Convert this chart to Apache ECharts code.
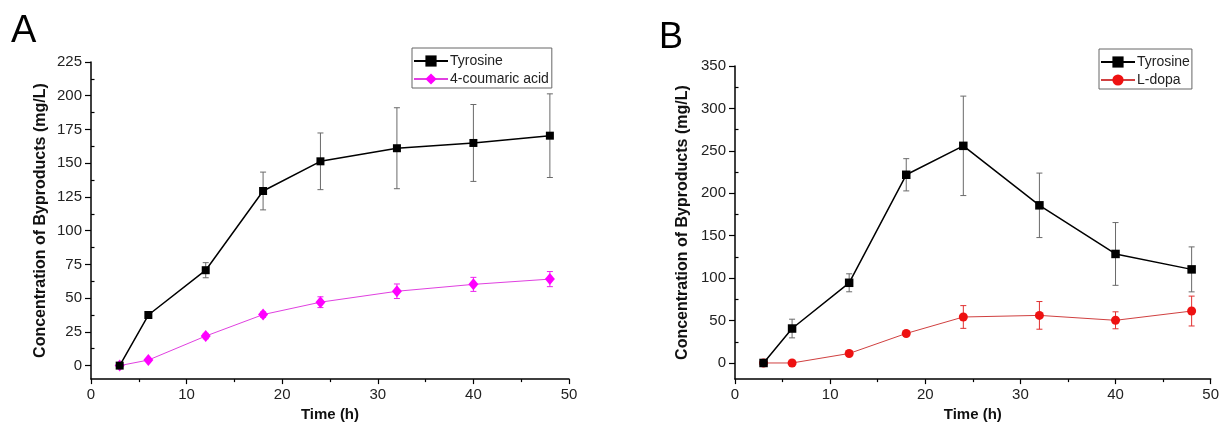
<!DOCTYPE html>
<html><head><meta charset="utf-8">
<script src="https://cdn.jsdelivr.net/npm/echarts@6/dist/echarts.min.js"></script>
<style>html,body{margin:0;padding:0;background:#fff}#c{width:1222px;height:427px}</style>
</head><body><div id="c"></div>
<script>
const hours = [3, 6, 12, 18, 24, 32, 40, 48];
const tyrA = [0, 37.5, 70.7, 129.4, 151.4, 161.1, 165, 170.4];
const tyrAErr = [0, 2.5, 5.6, 14, 21, 30, 28.5, 31];
const couA = [0, 4.1, 21.9, 37.8, 47, 55.1, 60.2, 64.1];
const couAErr = [0, 1, 2, 2, 4, 5.4, 5.2, 5.6];
const tyrB = [0, 40.6, 94.5, 221.8, 255.9, 185.8, 128.5, 110.3];
const tyrBErr = [0, 11, 10.6, 19, 58.6, 38, 37, 26.5];
const dopaB = [0, 0, 11.2, 34.8, 54.2, 56.1, 50.3, 61.2];
const dopaBErr = [0, 0, 1.5, 2, 13.4, 16.3, 10, 17.6];
const yLabelsA = [0, 25, 50, 75, 100, 125, 150, 175, 200, 225];
const yMinorA = [12.5, 37.5, 62.5, 87.5, 112.5, 137.5, 162.5, 187.5, 212.5];
const yLabelsB = [0, 50, 100, 150, 200, 250, 300, 350];
const yMinorB = [25, 75, 125, 175, 225, 275, 325];
const yTitle = 'Concentration of Byproducts (mg/L)';
const xTitle = 'Time (h)';

const FONT = '"Liberation Sans", Arial, sans-serif';
const pts = (v) => hours.map((h, i) => [h, v[i]]);
const errs = (v, e) => hours.map((h, i) => [h, v[i] - e[i], v[i] + e[i]]).filter((d, i) => e[i] > 0);

function errSeries(data, idx, color) {
  return {
    type: 'custom', xAxisIndex: idx, yAxisIndex: idx * 2, data: data, z: 1,
    encode: { x: 0, y: [1, 2] }, silent: true,
    renderItem: function (params, api) {
      const x = api.value(0), lo = api.value(1), hi = api.value(2);
      const pl = api.coord([x, lo]), ph = api.coord([x, hi]);
      const w = 3, st = { stroke: color, lineWidth: 1 };
      return { type: 'group', children: [
        { type: 'line', shape: { x1: pl[0], y1: pl[1], x2: ph[0], y2: ph[1] }, style: st },
        { type: 'line', shape: { x1: pl[0] - w, y1: pl[1], x2: pl[0] + w, y2: pl[1] }, style: st },
        { type: 'line', shape: { x1: ph[0] - w, y1: ph[1], x2: ph[0] + w, y2: ph[1] }, style: st }
      ]};
    }
  };
}

function xAxis(idx) {
  return {
    type: 'value', gridIndex: idx, min: 0, max: 50, interval: 10,
    name: xTitle, nameLocation: 'middle', nameGap: 27,
    nameTextStyle: { fontFamily: FONT, fontSize: 15, fontWeight: 'bold', color: '#111' },
    axisLine: { onZero: false, lineStyle: { color: '#000', width: 1.5 } },
    axisTick: { length: 5, lineStyle: { color: '#000', width: 1.2 } },
    minorTick: { show: true, splitNumber: 2, length: 3, lineStyle: { color: '#000', width: 1.2 } },
    axisLabel: { fontFamily: FONT, fontSize: 15, color: '#222', margin: 8 },
    splitLine: { show: false }
  };
}
function yAxes(idx, min, max, labels, minor, gap) {
  return [{
    type: 'value', gridIndex: idx, min: min, max: max,
    name: yTitle, nameLocation: 'middle', nameGap: gap,
    nameTextStyle: { fontFamily: FONT, fontSize: 16, fontWeight: 'bold', color: '#111' },
    axisLine: { show: true, onZero: false, lineStyle: { color: '#000', width: 1.5 } },
    axisTick: { show: true, length: 6, customValues: labels, lineStyle: { color: '#000', width: 1.2 } },
    axisLabel: { fontFamily: FONT, fontSize: 15, color: '#222', margin: 9, customValues: labels },
    splitLine: { show: false }
  }, {
    type: 'value', gridIndex: idx, min: min, max: max,
    axisLine: { show: false },
    axisTick: { show: true, length: 3.5, customValues: minor, lineStyle: { color: '#000', width: 1.2 } },
    axisLabel: { show: false, customValues: minor },
    splitLine: { show: false }
  }];
}

const legendBase = {
  orient: 'vertical', itemGap: 4, itemWidth: 34, itemHeight: 14,
  borderColor: '#666', borderWidth: 1,
  textStyle: { fontFamily: FONT, fontSize: 14, color: '#222', padding: [0, 0, 0, -3] }
};

const chart = echarts.init(document.getElementById('c'), null, { renderer: 'canvas' });
chart.setOption({
  animation: false,
  backgroundColor: '#fff',
  graphic: [
    { type: 'text', left: 11, top: 13, style: { text: 'A', font: '38px ' + FONT, fill: '#000' } },
    { type: 'text', left: 659, top: 20, style: { text: 'B', font: '36px ' + FONT, fill: '#000' } }
  ],
  legend: [Object.assign({}, legendBase, {
    left: 412, top: 48, padding: [6, 3, 2, 1],
    data: ['Tyrosine', '4-coumaric acid']
  }), Object.assign({}, legendBase, {
    left: 1099, top: 49, padding: [6, 2, 2, 1],
    data: [{ name: 'Tyrosine' }, 'L-dopa']
  })],
  grid: [
    { left: 91, right: 653, top: 62, bottom: 43 },
    { left: 735, right: 9, top: 66, bottom: 44 }
  ],
  xAxis: [xAxis(0), xAxis(1)],
  yAxis: yAxes(0, -10, 225, yLabelsA, yMinorA, 42).concat(yAxes(1, -19, 350, yLabelsB, yMinorB, 44)),
  series: [
    errSeries(errs(tyrA, tyrAErr), 0, '#6a6a6a'),
    errSeries(errs(couA, couAErr), 0, '#ee22ee'),
    errSeries(errs(tyrB, tyrBErr), 1, '#6a6a6a'),
    errSeries(errs(dopaB, dopaBErr), 1, '#e03030'),
    { name: 'Tyrosine', type: 'line', xAxisIndex: 0, yAxisIndex: 0, data: pts(tyrA), z: 3,
      symbol: 'rect', symbolSize: 8, itemStyle: { color: '#000' }, lineStyle: { color: '#000', width: 1.5 } },
    { name: '4-coumaric acid', type: 'line', xAxisIndex: 0, yAxisIndex: 0, data: pts(couA), z: 2,
      symbol: 'diamond', symbolSize: [10, 12], itemStyle: { color: '#ff00ff' }, lineStyle: { color: '#e040e0', width: 1 } },
    { name: 'Tyrosine', type: 'line', xAxisIndex: 1, yAxisIndex: 2, data: pts(tyrB), z: 3,
      symbol: 'rect', symbolSize: 8.5, itemStyle: { color: '#000' }, lineStyle: { color: '#000', width: 1.5 } },
    { name: 'L-dopa', type: 'line', xAxisIndex: 1, yAxisIndex: 2, data: pts(dopaB), z: 2,
      symbol: 'circle', symbolSize: 9, itemStyle: { color: '#ee1111' }, lineStyle: { color: '#d04040', width: 1 } }
  ]
});
</script></body></html>
